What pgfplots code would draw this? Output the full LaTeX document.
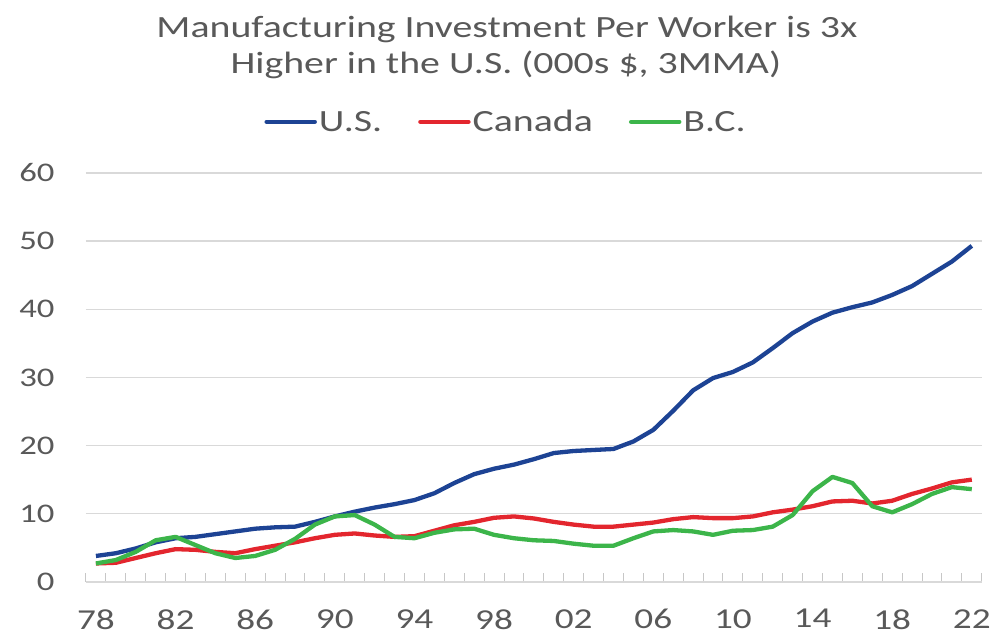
\documentclass[border=0pt]{standalone}
\usepackage{fontspec}
\setmainfont{Carlito}[FakeStretch=1.29]
\usepackage{pgfplots}
\pgfplotsset{compat=1.18}
\definecolor{usblue}{HTML}{1D4394}
\definecolor{cared}{HTML}{E3262E}
\definecolor{bcgreen}{HTML}{3CB54A}
\definecolor{txtgray}{HTML}{595959}
\definecolor{gridgray}{HTML}{D9D9D9}

\begin{document}
\begin{tikzpicture}
\begin{axis}[
  scale only axis,
  width=896bp, height=409bp,
  xmin=1977.5, xmax=2022.5,
  ymin=0, ymax=60,
  ytick={0,10,...,60},
  xtick={1978,1982,...,2022},
  xticklabels={78,82,86,90,94,98,02,06,10,14,18,22},
  minor xtick={1977.5,1978.5,...,2022.5},
  major tick length=0pt,
  minor tick length=9bp,
  tick align=inside,
  minor tick style={gridgray!80!gray, line width=1bp},
  separate axis lines,
  axis x line*=bottom,
  axis y line*=left,
  x axis line style={gridgray, line width=1.5bp},
  y axis line style={draw=none},
  ymajorgrids=true,
  grid style={gridgray, line width=1.5bp},
  /pgf/number format/assume math mode=true,
  yticklabel style={font=\fontsize{27}{30}\selectfont, text=txtgray},
  xticklabel style={font=\fontsize{29}{32}\selectfont, text=txtgray},
  yticklabel shift=28bp,
  xticklabel shift=24bp,
  legend columns=3,
  legend style={at={(0.469,1.125)}, anchor=center, draw=none, fill=none,
    font=\fontsize{31}{36}\selectfont, text=txtgray, inner sep=0pt,
    /tikz/every even column/.append style={column sep=34bp}},
  legend image code/.code={\draw[#1, line width=4.5bp, line cap=round] (0bp,0bp) -- (48bp,0bp);},
  every axis plot/.append style={line width=4.3bp, line join=round},
]
\addplot[usblue] coordinates {
(1978,3.8) (1979,4.2) (1980,4.9) (1981,5.8) (1982,6.4) (1983,6.6) (1984,7.0)
(1985,7.4) (1986,7.8) (1987,8.0) (1988,8.1) (1989,8.8) (1990,9.6) (1991,10.3)
(1992,10.9) (1993,11.4) (1994,12.0) (1995,13.0) (1996,14.5) (1997,15.8) (1998,16.6)
(1999,17.2) (2000,18.0) (2001,18.9) (2002,19.2) (2003,19.35) (2004,19.5) (2005,20.6)
(2006,22.3) (2007,25.1) (2008,28.1) (2009,29.9) (2010,30.8) (2011,32.2) (2012,34.3)
(2013,36.5) (2014,38.2) (2015,39.5) (2016,40.3) (2017,41.0) (2018,42.1) (2019,43.4)
(2020,45.2) (2021,47.0) (2022,49.3)
};
\addlegendentry{U.S.}
\addplot[cared] coordinates {
(1978,2.7) (1979,2.8) (1980,3.5) (1981,4.2) (1982,4.8) (1983,4.7) (1984,4.4)
(1985,4.2) (1986,4.8) (1987,5.3) (1988,5.8) (1989,6.4) (1990,6.9) (1991,7.1)
(1992,6.8) (1993,6.6) (1994,6.7) (1995,7.5) (1996,8.3) (1997,8.8) (1998,9.4)
(1999,9.6) (2000,9.3) (2001,8.8) (2002,8.4) (2003,8.1) (2004,8.1) (2005,8.4)
(2006,8.7) (2007,9.2) (2008,9.5) (2009,9.35) (2010,9.35) (2011,9.6) (2012,10.2)
(2013,10.6) (2014,11.1) (2015,11.8) (2016,11.9) (2017,11.5) (2018,11.9) (2019,12.9)
(2020,13.7) (2021,14.6) (2022,15.0)
};
\addlegendentry{Canada}
\addplot[bcgreen] coordinates {
(1978,2.7) (1979,3.2) (1980,4.4) (1981,6.1) (1982,6.6) (1983,5.4) (1984,4.2)
(1985,3.5) (1986,3.8) (1987,4.7) (1988,6.3) (1989,8.4) (1990,9.6) (1991,9.8)
(1992,8.4) (1993,6.6) (1994,6.4) (1995,7.2) (1996,7.7) (1997,7.8) (1998,6.9)
(1999,6.4) (2000,6.1) (2001,6.0) (2002,5.6) (2003,5.3) (2004,5.3) (2005,6.4)
(2006,7.4) (2007,7.6) (2008,7.4) (2009,6.9) (2010,7.5) (2011,7.6) (2012,8.1)
(2013,9.8) (2014,13.3) (2015,15.4) (2016,14.5) (2017,11.1) (2018,10.2) (2019,11.4)
(2020,12.9) (2021,13.9) (2022,13.6)
};
\addlegendentry{B.C.}
\end{axis}
\node[text=txtgray, font=\fontsize{31}{36}\selectfont] at (421bp,553bp) {Manufacturing Investment Per Worker is 3x};
\node[text=txtgray, font=\fontsize{31}{36}\selectfont] at (420bp,517bp) {Higher in the U.S. (000s \$, 3MMA)};
\path[use as bounding box] (-86bp,-53bp) rectangle (908bp,582bp);
\end{tikzpicture}
\end{document}
